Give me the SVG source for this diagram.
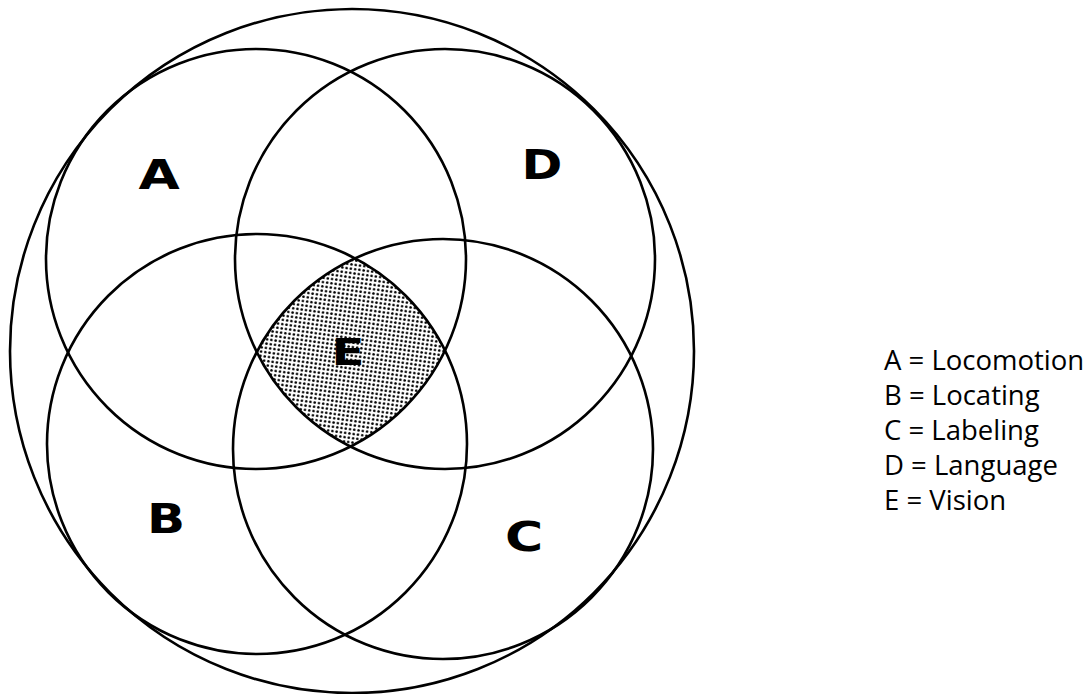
<svg xmlns="http://www.w3.org/2000/svg" width="1091" height="694" viewBox="0 0 1091 694">
  <style>
    .ring { fill: none; stroke: #000; stroke-width: 2.6; }
    .big { font-family: "DejaVu Sans", sans-serif; font-weight: bold; font-size: 41px; fill: #000; text-anchor: middle; }
    .legend { font-family: "Open Sans", "Noto Sans", sans-serif; font-size: 27.5px; fill: #000; }
  </style>
  <defs>
    <pattern id="dots" width="4.3" height="4.3" patternUnits="userSpaceOnUse" patternTransform="rotate(8)">
      <circle cx="2.15" cy="2.15" r="1.3" fill="#000"/>
    </pattern>
  </defs>
  <rect width="1091" height="694" fill="#fff"/>

  <g id="E-shading">
    <path d="M 355.1 258.3 A 210 210 0 0 0 256.7 352.0 A 210 210 0 0 0 350.5 446.5 A 210 210 0 0 0 445.0 350.5 A 210 210 0 0 0 355.1 258.3 Z" fill="url(#dots)" stroke="none"/>
  </g>

  <g id="outer">
    <circle class="ring" cx="352" cy="351" r="342"/>
  </g>
  <g id="circle-A">
    <circle class="ring" cx="256" cy="259" r="210"/>
    <text class="big" transform="translate(159,189) scale(1.3,1)">A</text>
  </g>
  <g id="circle-D">
    <circle class="ring" cx="445" cy="259" r="210"/>
    <text class="big" transform="translate(542,179) scale(1.2,1)">D</text>
  </g>
  <g id="circle-B">
    <circle class="ring" cx="257" cy="444" r="210"/>
    <text class="big" transform="translate(166,533) scale(1.22,1)">B</text>
  </g>
  <g id="circle-C">
    <circle class="ring" cx="443" cy="449" r="210"/>
    <text class="big" transform="translate(524,551) scale(1.27,1)">C</text>
  </g>
  <g id="E">
    <text class="big" style="font-size:38px" transform="translate(348,365) scale(1.27,1)">E</text>
  </g>

  <g id="legend">
    <text class="legend" x="884" y="370">A = Locomotion</text>
    <text class="legend" x="884" y="405">B = Locating</text>
    <text class="legend" x="884" y="440">C = Labeling</text>
    <text class="legend" x="884" y="475">D = Language</text>
    <text class="legend" x="884" y="510">E = Vision</text>
  </g>
</svg>
